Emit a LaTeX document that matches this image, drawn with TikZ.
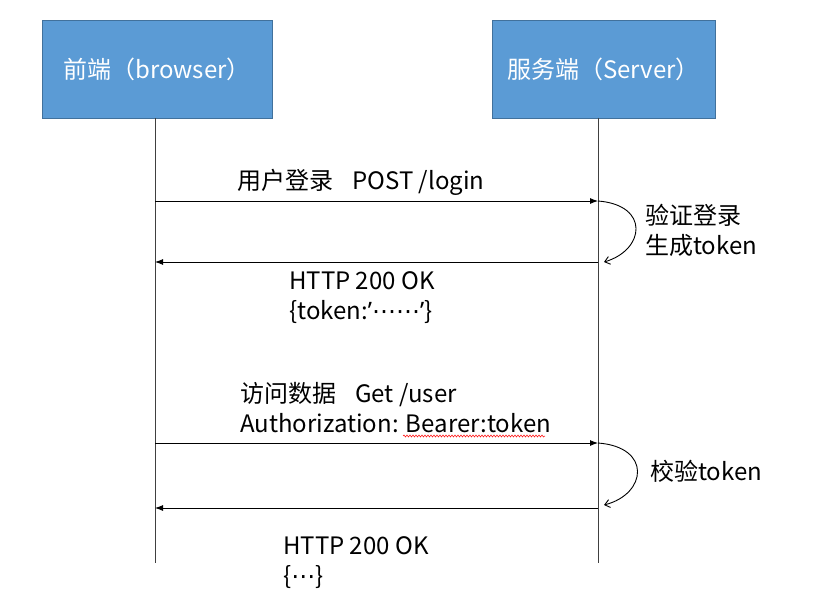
\documentclass[tikz,border=0pt]{standalone}
\usepackage{fontspec}
\setmainfont{Noto Sans CJK SC}
\newfontfamily\latinfont{Noto Sans}
\newfontfamily\dotsfont{DejaVu Sans}
\usetikzlibrary{arrows.meta,decorations.pathmorphing}
\definecolor{boxblue}{HTML}{5B9BD5}
\definecolor{boxline}{HTML}{41719C}
\definecolor{lifegray}{HTML}{404040}

\begin{document}
\begin{tikzpicture}[x=1pt,y=-1pt,
	party/.style={draw=boxline,line width=0.8pt,fill=boxblue,text=white,minimum width=230pt,minimum height=98pt,inner sep=0pt},
	life/.style={draw=lifegray,line width=1pt},
	msg/.style={line width=0.9pt,-{Latex[length=8pt,width=6pt]}},
	selfloop/.style={line width=0.9pt,-{Straight Barb[length=5pt,width=8pt]}},
	lbl/.style={anchor=west,align=left,inner sep=0pt,font=\fontsize{24}{30}\selectfont}]
	\useasboundingbox (0,0) rectangle (819,604);
	\fill[white] (0,0) rectangle (819,604);
	
	\node[party,font=\fontsize{24}{30}\selectfont] (browser) at (157,69) {前端（browser）};
	\node[party,minimum width=223pt,font=\fontsize{24}{30}\selectfont] (server) at (603.5,69) {服务端（Server）};
	
	\coordinate (fetop) at (155,118);
	\coordinate (febot) at (155,563);
	\coordinate (svtop) at (598,118);
	\coordinate (svbot) at (598,563);
	\draw[life] (fetop) -- (febot);
	\draw[life] (svtop) -- (svbot);
	
	\foreach \y/\n in {201/1,262/2,443/3,508/4} {
		\coordinate (fe\n) at (155,\y);
		\coordinate (sv\n) at (598,\y);
	}
	
	% login
	\draw[msg] (fe1) -- (sv1);
	\draw[msg] (sv2) -- (fe2);
	\draw[selfloop] (sv1) .. controls (650,205) and (645,250) .. ([xshift=6pt]sv2);
	\node[lbl] (login) at (237,182) {用户登录\hspace{0.8em}POST /login};
	\node[lbl] (check1) at (645,230) {验证登录\\生成token};
	\node[lbl] (ok1) at (289,298) {HTTP 200 OK\\\{token:{\latinfont ’}{\dotsfont ⋯⋯}{\latinfont ’}\}};
	
	% data
	\draw[msg] (fe3) -- (sv3);
	\draw[msg] (sv4) -- (fe4);
	\draw[selfloop] (sv3) .. controls (652,447) and (647,494) .. ([xshift=6pt,yshift=3pt]sv4);
	\node[lbl] (getuser) at (240,408) {访问数据\hspace{0.8em}Get /user\\Authorization: Bearer:token};
	\node[lbl] (check2) at (650,471) {校验token};
	\node[lbl] (ok2) at (283,563) {HTTP 200 OK\\\{{\dotsfont ⋯}\}};
	\draw[red,line width=0.5pt,decorate,decoration={snake,amplitude=1pt,segment length=3pt}] (403,436) -- (545,436);
\end{tikzpicture}
\end{document}
